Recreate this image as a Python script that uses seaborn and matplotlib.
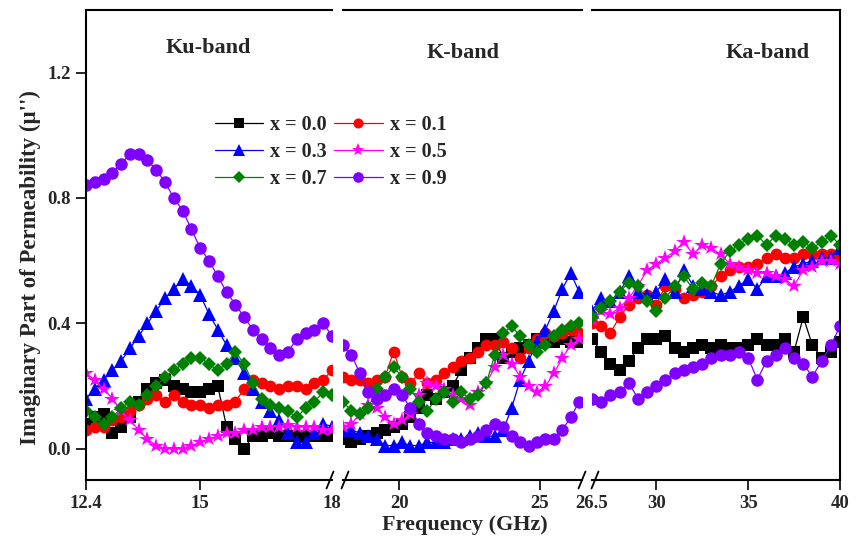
import numpy as np
import pandas as pd
import matplotlib
matplotlib.use("Agg")
import matplotlib.pyplot as plt
from matplotlib.lines import Line2D
import seaborn as sns

# ---- frequency grids (GHz) for the three waveguide bands ----
freq_ku = [12.4, 12.6, 12.8, 13.0, 13.2, 13.4, 13.6, 13.8, 14.0, 14.2, 14.4, 14.6, 14.8, 15.0,
           15.2, 15.4, 15.6, 15.8, 16.0, 16.2, 16.4, 16.6, 16.8, 17.0, 17.2, 17.4, 17.6, 17.8, 18.0]
freq_k = [18.0, 18.3, 18.6, 18.9, 19.2, 19.5, 19.8, 20.1, 20.4, 20.7, 21.0, 21.3, 21.6, 21.9,
          22.2, 22.5, 22.8, 23.1, 23.4, 23.7, 24.0, 24.3, 24.6, 24.9, 25.2, 25.5, 25.8, 26.1, 26.4]
freq_ka = [26.5, 27.0, 27.5, 28.0, 28.5, 29.0, 29.5, 30.0, 30.5, 31.0, 31.5, 32.0, 32.5, 33.0,
           33.5, 34.0, 34.5, 35.0, 35.5, 36.0, 36.5, 37.0, 37.5, 38.0, 38.5, 39.0, 39.5, 40.0]

# ---- imaginary permeability, Ku band ----
ku_x00 = [0.08, 0.10, 0.11, 0.05, 0.07, 0.10, 0.15, 0.19, 0.21, 0.22, 0.20, 0.19, 0.18, 0.18,
          0.19, 0.20, 0.07, 0.03, 0.00, 0.04, 0.04, 0.05, 0.04, 0.04, 0.04, 0.04, 0.04, 0.04, 0.04]
ku_x01 = [0.06, 0.07, 0.07, 0.09, 0.10, 0.12, 0.14, 0.16, 0.17, 0.15, 0.17, 0.15, 0.14, 0.14,
          0.13, 0.14, 0.14, 0.15, 0.19, 0.22, 0.21, 0.20, 0.19, 0.20, 0.20, 0.19, 0.21, 0.22, 0.25]
ku_x03 = [0.16, 0.19, 0.22, 0.25, 0.28, 0.32, 0.36, 0.40, 0.44, 0.48, 0.51, 0.54, 0.52, 0.49,
          0.43, 0.38, 0.33, 0.29, 0.24, 0.19, 0.15, 0.12, 0.09, 0.05, 0.02, 0.02, 0.05, 0.08, 0.07]
ku_x05 = [0.24, 0.22, 0.19, 0.16, 0.12, 0.09, 0.06, 0.03, 0.01, 0.00, 0.00, 0.00, 0.01, 0.02,
          0.03, 0.04, 0.05, 0.05, 0.06, 0.06, 0.07, 0.07, 0.07, 0.075, 0.07, 0.07, 0.07, 0.06, 0.06]
ku_x07 = [0.12, 0.10, 0.08, 0.10, 0.13, 0.15, 0.14, 0.17, 0.20, 0.23, 0.25, 0.27, 0.29, 0.29,
          0.27, 0.25, 0.27, 0.31, 0.27, 0.21, 0.16, 0.14, 0.13, 0.12, 0.10, 0.13, 0.15, 0.18, 0.17]
ku_x09 = [0.84, 0.85, 0.86, 0.88, 0.91, 0.94, 0.94, 0.92, 0.89, 0.85, 0.80, 0.76, 0.70, 0.64,
          0.60, 0.55, 0.50, 0.46, 0.42, 0.38, 0.35, 0.32, 0.30, 0.31, 0.35, 0.37, 0.38, 0.40, 0.36]

# ---- imaginary permeability, K band ----
k_x00 = [0.03, 0.02, 0.03, 0.04, 0.05, 0.06, 0.07, 0.08, 0.10, 0.13, 0.17, 0.16, 0.18, 0.20,
         0.25, 0.29, 0.32, 0.35, 0.35, 0.29, 0.31, 0.32, 0.33, 0.35, 0.35, 0.34, 0.35, 0.34, 0.34]
k_x01 = [0.23, 0.22, 0.22, 0.21, 0.22, 0.23, 0.31, 0.23, 0.21, 0.24, 0.21, 0.22, 0.24, 0.26,
         0.28, 0.29, 0.31, 0.33, 0.33, 0.34, 0.32, 0.29, 0.32, 0.35, 0.37, 0.36, 0.37, 0.38, 0.37]
k_x03 = [0.06, 0.06, 0.05, 0.04, 0.03, 0.01, 0.01, 0.02, 0.01, 0.01, 0.02, 0.02, 0.02, 0.03,
         0.03, 0.04, 0.05, 0.04, 0.04, 0.06, 0.13, 0.22, 0.28, 0.34, 0.38, 0.44, 0.51, 0.56, 0.50]
k_x05 = [0.07, 0.08, 0.11, 0.14, 0.13, 0.10, 0.08, 0.09, 0.11, 0.17, 0.21, 0.20, 0.19, 0.17,
         0.16, 0.14, 0.18, 0.21, 0.26, 0.30, 0.27, 0.23, 0.20, 0.18, 0.20, 0.24, 0.29, 0.33, 0.35]
k_x07 = [0.15, 0.12, 0.11, 0.13, 0.19, 0.23, 0.26, 0.23, 0.19, 0.15, 0.12, 0.16, 0.18, 0.15,
         0.18, 0.16, 0.17, 0.21, 0.30, 0.37, 0.39, 0.36, 0.33, 0.31, 0.33, 0.36, 0.38, 0.39, 0.40]
k_x09 = [0.33, 0.30, 0.24, 0.18, 0.16, 0.17, 0.19, 0.17, 0.13, 0.08, 0.05, 0.04, 0.03, 0.03,
         0.02, 0.03, 0.04, 0.06, 0.08, 0.07, 0.04, 0.02, 0.01, 0.02, 0.03, 0.03, 0.06, 0.10, 0.15]

# ---- imaginary permeability, Ka band ----
ka_x00 = [0.35, 0.31, 0.27, 0.25, 0.28, 0.32, 0.35, 0.35, 0.36, 0.32, 0.31, 0.32, 0.33, 0.32,
          0.33, 0.32, 0.32, 0.33, 0.35, 0.33, 0.33, 0.35, 0.31, 0.42, 0.33, 0.29, 0.31, 0.34]
ka_x01 = [0.40, 0.39, 0.37, 0.42, 0.46, 0.48, 0.49, 0.46, 0.52, 0.51, 0.48, 0.49, 0.50, 0.52,
          0.55, 0.57, 0.58, 0.58, 0.59, 0.61, 0.62, 0.61, 0.61, 0.62, 0.62, 0.62, 0.62, 0.61]
ka_x03 = [0.44, 0.48, 0.47, 0.50, 0.55, 0.50, 0.49, 0.50, 0.54, 0.50, 0.57, 0.52, 0.51, 0.50,
          0.49, 0.50, 0.52, 0.54, 0.51, 0.55, 0.55, 0.56, 0.58, 0.59, 0.60, 0.61, 0.61, 0.64]
ka_x05 = [0.41, 0.44, 0.43, 0.45, 0.48, 0.52, 0.57, 0.59, 0.61, 0.63, 0.66, 0.62, 0.65, 0.64,
          0.62, 0.59, 0.58, 0.57, 0.56, 0.56, 0.55, 0.54, 0.52, 0.57, 0.58, 0.60, 0.60, 0.59]
ka_x07 = [0.42, 0.45, 0.47, 0.50, 0.53, 0.52, 0.47, 0.44, 0.48, 0.52, 0.55, 0.51, 0.53, 0.52,
          0.59, 0.63, 0.65, 0.67, 0.68, 0.65, 0.68, 0.67, 0.65, 0.66, 0.64, 0.66, 0.68, 0.65]
ka_x09 = [0.16, 0.15, 0.17, 0.18, 0.21, 0.16, 0.18, 0.20, 0.22, 0.24, 0.25, 0.26, 0.27, 0.29,
          0.30, 0.30, 0.31, 0.29, 0.22, 0.28, 0.30, 0.32, 0.29, 0.27, 0.23, 0.28, 0.33, 0.39]

compositions = ["x = 0.0", "x = 0.1", "x = 0.3", "x = 0.5", "x = 0.7", "x = 0.9"]
band_names = ["Ku-band", "K-band", "Ka-band"]

# ---- styling ----
sns.set_style("ticks")
plt.rcParams["font.family"] = ["Liberation Serif", "DejaVu Serif"]
plt.rcParams["font.weight"] = "bold"
plt.rcParams["axes.labelweight"] = "bold"

colors = ["#000000", "#FF0000", "#0000FF", "#FF00FF", "#008000", "#7F00FF"]
markers = ["s", "o", "^", "*", "D", "o"]
msizes = [8, 8.5, 9.5, 11.5, 7.5, 9]

bands = [
    (freq_ku, [ku_x00, ku_x01, ku_x03, ku_x05, ku_x07, ku_x09], (12.4, 18.0), [12.4, 15, 18], ["12.4", "15", "18"]),
    (freq_k, [k_x00, k_x01, k_x03, k_x05, k_x07, k_x09], (18.0, 26.5), [20, 25], ["20", "25"]),
    (freq_ka, [ka_x00, ka_x01, ka_x03, ka_x05, ka_x07, ka_x09], (26.5, 40.0), [26.5, 30, 35, 40], ["26.5", "30", "35", "40"]),
]

W, H = 860, 539
fig = plt.figure(figsize=(W / 100, H / 100), dpi=100)

# axes extents in pixels (left, right); shared bottom/top
px_spans = [(86, 332), (343, 582), (592, 840)]
bottom_px, top_px = 480, 10
bottom = 1 - bottom_px / H
height = (bottom_px - top_px) / H

axes = []
for (l, r) in px_spans:
    ax = fig.add_axes([l / W, bottom, (r - l) / W, height])
    axes.append(ax)

band_label_pos = [(15.18, 1.279), (22.27, 1.263), (36.07, 1.263)]

for i, (ax, (freq, series, xlim, xt, xtl)) in enumerate(zip(axes, bands)):
    for j, vals in enumerate(series):
        sns.lineplot(x=np.array(freq), y=np.array(vals), ax=ax, color=colors[j],
                     marker=markers[j], markersize=msizes[j], markeredgewidth=0,
                     linewidth=0.9, label=compositions[j] if i == 0 else None,
                     legend=False)
    ax.set_xlim(*xlim)
    ax.set_ylim(-0.1, 1.4)
    ax.set_xticks(xt)
    ax.set_xticklabels(xtl)
    ax.set_xlabel("")
    ax.set_ylabel("")
    ax.tick_params(axis="both", direction="out", length=7, width=1.4,
                   labelsize=13.5, pad=4)
    for s in ax.spines.values():
        s.set_linewidth(1.5)
        s.set_color("black")
    ax.spines["left"].set_visible(i == 0)
    ax.spines["right"].set_visible(i == 2)
    if i == 0:
        ax.set_yticks([0.0, 0.4, 0.8, 1.2])
        ax.set_yticklabels(["0.0", "0.4", "0.8", "1.2"])
    else:
        ax.set_yticks([])
    # no tick marks where the axis is broken
    ticks = ax.xaxis.get_major_ticks()
    if i == 0:
        ticks[-1].tick1line.set_visible(False)
    if i == 2:
        ticks[0].tick1line.set_visible(False)
    bx, by = band_label_pos[i]
    ax.text(bx, by, band_names[i], ha="center", va="center", fontsize=16,
            fontweight="bold")

# axis-break slashes on the bottom spine
for xs in [330, 345, 582, 595]:
    xf = xs / W
    yf = bottom
    fig.add_artist(Line2D([xf - 3.5 / W, xf + 3.5 / W], [yf - 8.5 / H, yf + 8.5 / H],
                          transform=fig.transFigure, color="black", lw=1.3))

fig.text(465 / W, 1 - 525 / H, "Frequency (GHz)", ha="center", va="center",
         fontsize=16, fontweight="bold")
fig.text(30 / W, 1 - 268 / H, "Imaginary Part of Permeability (\u03bc'')", ha="center",
         va="center", rotation=90, fontsize=16.5, fontweight="bold")

handles = axes[0].get_lines()[:6]
order = [0, 2, 4, 1, 3, 5]
fig.legend([handles[k] for k in order], [compositions[k] for k in order],
           ncol=2, loc="upper left", bbox_to_anchor=(205 / W, 1 - 105 / H),
           frameon=False, borderpad=0, handlelength=2.4, handletextpad=0.35,
           columnspacing=0.35, labelspacing=0.35, fontsize=14.5, markerscale=0.85)

fig.savefig("out.png", dpi=100)
